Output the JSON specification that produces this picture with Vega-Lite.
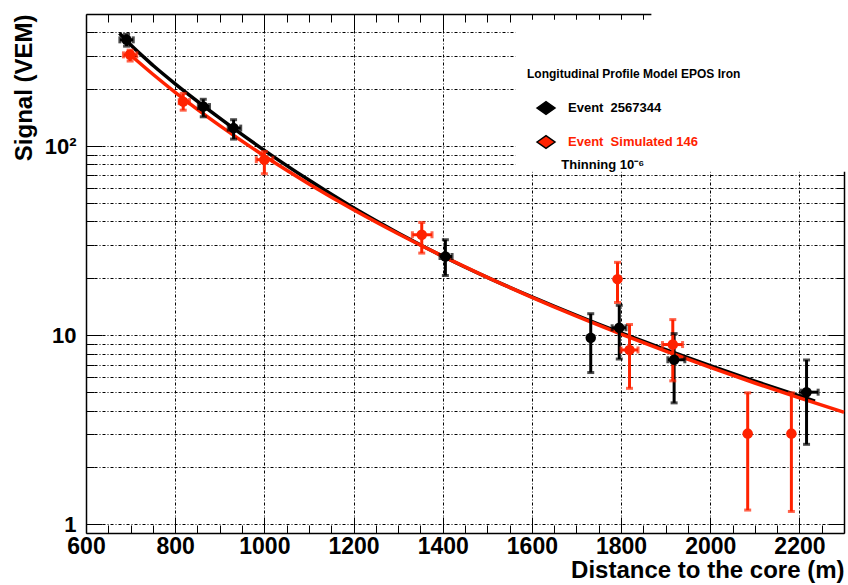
{
  "$schema": "https://vega.github.io/schema/vega-lite/v6.json",
  "width": 758,
  "height": 519,
  "autosize": {"type": "none"},
  "padding": {"left": 86, "top": 14, "right": 4, "bottom": 52},
  "config": {"view": {"stroke": null}, "font": "Liberation Sans"},
  "datasets": {
    "pts": [
      {"series": "Event\u00a0 2567344", "r": 691, "s": 365, "lo": 338, "hi": 390, "xlo": 676, "xhi": 706},
      {"series": "Event\u00a0 2567344", "r": 863, "s": 162, "lo": 143, "hi": 177, "xlo": 852, "xhi": 877},
      {"series": "Event\u00a0 2567344", "r": 931, "s": 124.6, "lo": 109, "hi": 138, "xlo": 919, "xhi": 947},
      {"series": "Event\u00a0 2567344", "r": 1406, "s": 26.1, "lo": 20.7, "hi": 32, "xlo": 1394, "xhi": 1421},
      {"series": "Event\u00a0 2567344", "r": 1732, "s": 9.69, "lo": 6.35, "hi": 13.0},
      {"series": "Event\u00a0 2567344", "r": 1796, "s": 10.95, "lo": 7.49, "hi": 14.4, "xlo": 1780, "xhi": 1811},
      {"series": "Event\u00a0 2567344", "r": 1919, "s": 7.42, "lo": 4.39, "hi": 10.2, "xlo": 1905, "xhi": 1943},
      {"series": "Event\u00a0 2567344", "r": 2216, "s": 5.0, "lo": 2.65, "hi": 7.4, "xlo": 2203, "xhi": 2242},
      {"series": "Event\u00a0 Simulated 146", "r": 699, "s": 304, "lo": 282, "hi": 322, "xlo": 684, "xhi": 714},
      {"series": "Event\u00a0 Simulated 146", "r": 818, "s": 172, "lo": 155, "hi": 190, "xlo": 809, "xhi": 832},
      {"series": "Event\u00a0 Simulated 146", "r": 1000, "s": 84.8, "lo": 71.5, "hi": 93.7, "xlo": 982, "xhi": 1019},
      {"series": "Event\u00a0 Simulated 146", "r": 1353, "s": 34, "lo": 27.2, "hi": 39.5, "xlo": 1332, "xhi": 1376},
      {"series": "Event\u00a0 Simulated 146", "r": 1792, "s": 19.8, "lo": 14.9, "hi": 24.3},
      {"series": "Event\u00a0 Simulated 146", "r": 1819, "s": 8.36, "lo": 5.24, "hi": 11.4, "xlo": 1800, "xhi": 1838},
      {"series": "Event\u00a0 Simulated 146", "r": 1916, "s": 8.93, "lo": 5.74, "hi": 12.1, "xlo": 1893, "xhi": 1938},
      {"series": "Event\u00a0 Simulated 146", "r": 2084, "s": 3.02, "lo": 1.19, "hi": 4.96},
      {"series": "Event\u00a0 Simulated 146", "r": 2182, "s": 3.02, "lo": 1.17, "hi": 4.96}
    ],
    "curves": [
      {"series": "Event\u00a0 2567344", "r": 675, "s": 395.4},
      {"series": "Event\u00a0 2567344", "r": 700, "s": 343.4},
      {"series": "Event\u00a0 2567344", "r": 750, "s": 268.0},
      {"series": "Event\u00a0 2567344", "r": 800, "s": 213.8},
      {"series": "Event\u00a0 2567344", "r": 900, "s": 140.8},
      {"series": "Event\u00a0 2567344", "r": 1000, "s": 95.06},
      {"series": "Event\u00a0 2567344", "r": 1100, "s": 66.16},
      {"series": "Event\u00a0 2567344", "r": 1200, "s": 47.21},
      {"series": "Event\u00a0 2567344", "r": 1300, "s": 34.76},
      {"series": "Event\u00a0 2567344", "r": 1400, "s": 26.19},
      {"series": "Event\u00a0 2567344", "r": 1500, "s": 20.24},
      {"series": "Event\u00a0 2567344", "r": 1600, "s": 15.96},
      {"series": "Event\u00a0 2567344", "r": 1700, "s": 12.74},
      {"series": "Event\u00a0 2567344", "r": 1800, "s": 10.29},
      {"series": "Event\u00a0 2567344", "r": 1900, "s": 8.398},
      {"series": "Event\u00a0 2567344", "r": 2000, "s": 6.902},
      {"series": "Event\u00a0 2567344", "r": 2100, "s": 5.721},
      {"series": "Event\u00a0 2567344", "r": 2200, "s": 4.771},
      {"series": "Event\u00a0 2567344", "r": 2235, "s": 4.484},
      {"series": "Event\u00a0 Simulated 146", "r": 690, "s": 317.5},
      {"series": "Event\u00a0 Simulated 146", "r": 750, "s": 240.0},
      {"series": "Event\u00a0 Simulated 146", "r": 800, "s": 192.7},
      {"series": "Event\u00a0 Simulated 146", "r": 900, "s": 128.4},
      {"series": "Event\u00a0 Simulated 146", "r": 1000, "s": 88.7},
      {"series": "Event\u00a0 Simulated 146", "r": 1100, "s": 63.17},
      {"series": "Event\u00a0 Simulated 146", "r": 1200, "s": 46.13},
      {"series": "Event\u00a0 Simulated 146", "r": 1300, "s": 34.44},
      {"series": "Event\u00a0 Simulated 146", "r": 1400, "s": 26.19},
      {"series": "Event\u00a0 Simulated 146", "r": 1500, "s": 20.24},
      {"series": "Event\u00a0 Simulated 146", "r": 1600, "s": 15.88},
      {"series": "Event\u00a0 Simulated 146", "r": 1700, "s": 12.62},
      {"series": "Event\u00a0 Simulated 146", "r": 1800, "s": 10.15},
      {"series": "Event\u00a0 Simulated 146", "r": 1900, "s": 8.245},
      {"series": "Event\u00a0 Simulated 146", "r": 2000, "s": 6.761},
      {"series": "Event\u00a0 Simulated 146", "r": 2100, "s": 5.591},
      {"series": "Event\u00a0 Simulated 146", "r": 2200, "s": 4.663},
      {"series": "Event\u00a0 Simulated 146", "r": 2300, "s": 3.916}
    ]
  },
  "resolve": {"axis": {"x": "independent", "y": "independent"}},
  "layer": [
    {
      "data": {"values": [{}]},
      "mark": {"type": "rect", "fill": "white"},
      "encoding": {
        "x": {"datum": 1563, "type": "quantitative", "scale": {"domain": [600, 2300], "nice": false, "zero": false}, "axis": null},
        "x2": {"datum": 2400},
        "y": {"datum": 465.5, "type": "quantitative", "scale": {"type": "log", "domain": [0.9, 500], "nice": false}, "axis": null},
        "y2": {"datum": 73.3}
      }
    },
    {
      "data": {"values": [{}]},
      "mark": {"type": "rect", "fill": "white"},
      "encoding": {
        "x": {"datum": 1868, "type": "quantitative", "axis": null},
        "x2": {"datum": 2400},
        "y": {"datum": 600, "type": "quantitative", "axis": null},
        "y2": {"datum": 117.7}
      }
    },
    {
      "data": {"name": "curves"},
      "mark": {"type": "line", "strokeWidth": 3.5, "interpolate": "monotone"},
      "encoding": {
        "x": {
          "field": "r", "type": "quantitative",
          "scale": {"domain": [600, 2300], "nice": false, "zero": false},
          "axis": {
            "orient": "bottom",
            "values": [600, 650, 700, 750, 800, 850, 900, 950, 1000, 1050, 1100, 1150, 1200, 1250, 1300, 1350, 1400, 1450, 1500, 1550, 1600, 1650, 1700, 1750, 1800, 1850, 1900, 1950, 2000, 2050, 2100, 2150, 2200, 2250, 2300],
            "format": "d",
            "labelExpr": "datum.value % 200 === 0 ? datum.label : ''",
            "labelFontSize": 23, "labelFontWeight": "bold", "labelColor": "black", "labelPadding": 18,
            "labelOverlap": false, "labelFlush": false, "labelBound": false,
            "tickSize": {"condition": {"test": "datum.value % 200 === 0", "value": -16}, "value": -8},
            "tickColor": "black", "tickWidth": 1,
            "domainColor": "black", "domainWidth": 1.5,
            "grid": true, "gridColor": "black", "gridDash": [3, 2, 1, 2], "gridWidth": 1,
            "gridOpacity": {"condition": {"test": "datum.value % 200 === 0 && datum.value > 600", "value": 1}, "value": 0},
            "title": "Distance to the core (m)", "titleFontSize": 24, "titleFontWeight": "bold", "titleColor": "black", "titleAnchor": "end", "titlePadding": -8
          }
        },
        "y": {
          "field": "s", "type": "quantitative",
          "scale": {"type": "log", "domain": [0.9, 500], "nice": false},
          "axis": {
            "orient": "left",
            "values": [1, 2, 3, 4, 5, 6, 7, 8, 9, 10, 20, 30, 40, 50, 60, 70, 80, 90, 100, 200, 300, 400],
            "labelExpr": "datum.value === 100 ? '10²' : datum.value === 10 ? '10' : datum.value === 1 ? '1' : ''",
            "labelFontSize": 22, "labelFontWeight": "bold", "labelColor": "black", "labelPadding": 26,
            "labelOverlap": false, "labelFlush": false, "labelBound": false,
            "tickSize": {"condition": {"test": "datum.value === 1 || datum.value === 10 || datum.value === 100", "value": -16}, "value": -8},
            "tickColor": "black", "tickWidth": 1,
            "domainColor": "black", "domainWidth": 1.5,
            "grid": true, "gridColor": "black", "gridDash": [3, 2, 1, 2], "gridWidth": 1,
            "title": "Signal (VEM)", "titleFontSize": 24, "titleFontWeight": "bold", "titleColor": "black", "titleAnchor": "end", "titlePadding": 8
          }
        },
        "stroke": {"field": "series", "type": "nominal", "scale": {"domain": ["Event\u00a0 Simulated 146", "Event\u00a0 2567344"], "range": ["#ff2200", "black"]}, "legend": null}
      }
    },
    {
      "data": {"name": "pts"},
      "mark": {"type": "rule", "strokeWidth": 3},
      "encoding": {
        "x": {"field": "r", "type": "quantitative", "axis": null},
        "y": {"field": "lo", "type": "quantitative", "axis": null},
        "y2": {"field": "hi"},
        "stroke": {"field": "series", "type": "nominal", "legend": null}
      }
    },
    {
      "data": {"name": "pts"},
      "mark": {"type": "tick", "orient": "horizontal", "size": 7, "thickness": 3},
      "encoding": {
        "x": {"field": "r", "type": "quantitative", "axis": null},
        "y": {"field": "lo", "type": "quantitative", "axis": null},
        "fill": {"field": "series", "type": "nominal", "scale": {"domain": ["Event\u00a0 Simulated 146", "Event\u00a0 2567344", "none"], "range": ["#ff2200", "black", "white"]}, "legend": null}
      }
    },
    {
      "data": {"name": "pts"},
      "mark": {"type": "tick", "orient": "horizontal", "size": 7, "thickness": 3},
      "encoding": {
        "x": {"field": "r", "type": "quantitative", "axis": null},
        "y": {"field": "hi", "type": "quantitative", "axis": null},
        "fill": {"field": "series", "type": "nominal", "legend": null}
      }
    },
    {
      "data": {"name": "pts"},
      "transform": [{"filter": "isValid(datum.xlo)"}],
      "mark": {"type": "rule", "strokeWidth": 3},
      "encoding": {
        "x": {"field": "xlo", "type": "quantitative", "axis": null},
        "x2": {"field": "xhi"},
        "y": {"field": "s", "type": "quantitative", "axis": null},
        "stroke": {"field": "series", "type": "nominal", "legend": null}
      }
    },
    {
      "data": {"name": "pts"},
      "transform": [{"filter": "isValid(datum.xlo)"}],
      "mark": {"type": "tick", "orient": "vertical", "size": 7, "thickness": 3},
      "encoding": {
        "x": {"field": "xlo", "type": "quantitative", "axis": null},
        "y": {"field": "s", "type": "quantitative", "axis": null},
        "fill": {"field": "series", "type": "nominal", "legend": null}
      }
    },
    {
      "data": {"name": "pts"},
      "transform": [{"filter": "isValid(datum.xlo)"}],
      "mark": {"type": "tick", "orient": "vertical", "size": 7, "thickness": 3},
      "encoding": {
        "x": {"field": "xhi", "type": "quantitative", "axis": null},
        "y": {"field": "s", "type": "quantitative", "axis": null},
        "fill": {"field": "series", "type": "nominal", "legend": null}
      }
    },
    {
      "data": {"name": "pts"},
      "mark": {"type": "point", "filled": true, "size": 110, "opacity": 1, "shape": "circle"},
      "encoding": {
        "x": {
          "field": "r", "type": "quantitative",
          "axis": {
            "orient": "top",
            "values": [600, 650, 700, 750, 800, 850, 900, 950, 1000, 1050, 1100, 1150, 1200, 1250, 1300, 1350, 1400, 1450, 1500, 1550, 1600, 1650, 1700, 1750, 1800, 1850, 1900, 1950, 2000, 2050, 2100, 2150, 2200, 2250, 2300],
            "labels": false,
            "tickSize": {"condition": {"test": "datum.value % 200 === 0", "value": -16}, "value": -8},
            "tickColor": "black", "tickWidth": 1,
            "domainColor": "black", "domainWidth": 1.5,
            "grid": false, "title": null
          }
        },
        "y": {
          "field": "s", "type": "quantitative",
          "axis": {
            "orient": "right",
            "values": [1, 2, 3, 4, 5, 6, 7, 8, 9, 10, 20, 30, 40, 50, 60, 70, 80, 90, 100, 200, 300, 400],
            "labels": false,
            "tickSize": {"condition": {"test": "datum.value === 1 || datum.value === 10 || datum.value === 100", "value": -16}, "value": -8},
            "tickColor": "black", "tickWidth": 1,
            "domainColor": "black", "domainWidth": 1.5,
            "grid": false, "title": null
          }
        },
        "color": {
          "field": "series", "type": "nominal",
          "scale": {"domain": ["Event\u00a0 2567344", "Event\u00a0 Simulated 146"], "range": ["black", "#ff2200"]},
          "legend": {
            "orient": "none", "legendX": 441, "legendY": 55, "padding": 0, "zindex": 2,
            "title": "Longitudinal Profile Model EPOS Iron",
            "titleFontSize": 12, "titleFontWeight": "bold", "titleColor": "black", "titlePadding": 17, "titleLimit": 400,
            "symbolType": "M-1,0L0,-0.7L1,0L0,0.7Z", "symbolSize": 324,
            "symbolStrokeColor": "black", "symbolStrokeWidth": 1.5, "symbolOffset": 9,
            "labelOffset": 12, "labelFontSize": 13, "labelFontWeight": "bold", "labelLimit": 400,
            "labelColor": {"expr": "datum.value === 'Event\u00a0 Simulated 146' ? '#ff2200' : 'black'"},
            "rowPadding": 14
          }
        }
      }
    },
    {
      "data": {"values": [{}]},
      "mark": {"type": "text", "text": "Thinning 10⁻⁶", "align": "left", "baseline": "alphabetic", "fontSize": 13, "fontWeight": "bold", "color": "black"},
      "encoding": {
        "x": {"datum": 1666, "type": "quantitative", "axis": null},
        "y": {"datum": 76, "type": "quantitative", "axis": null}
      }
    }
  ]
}
